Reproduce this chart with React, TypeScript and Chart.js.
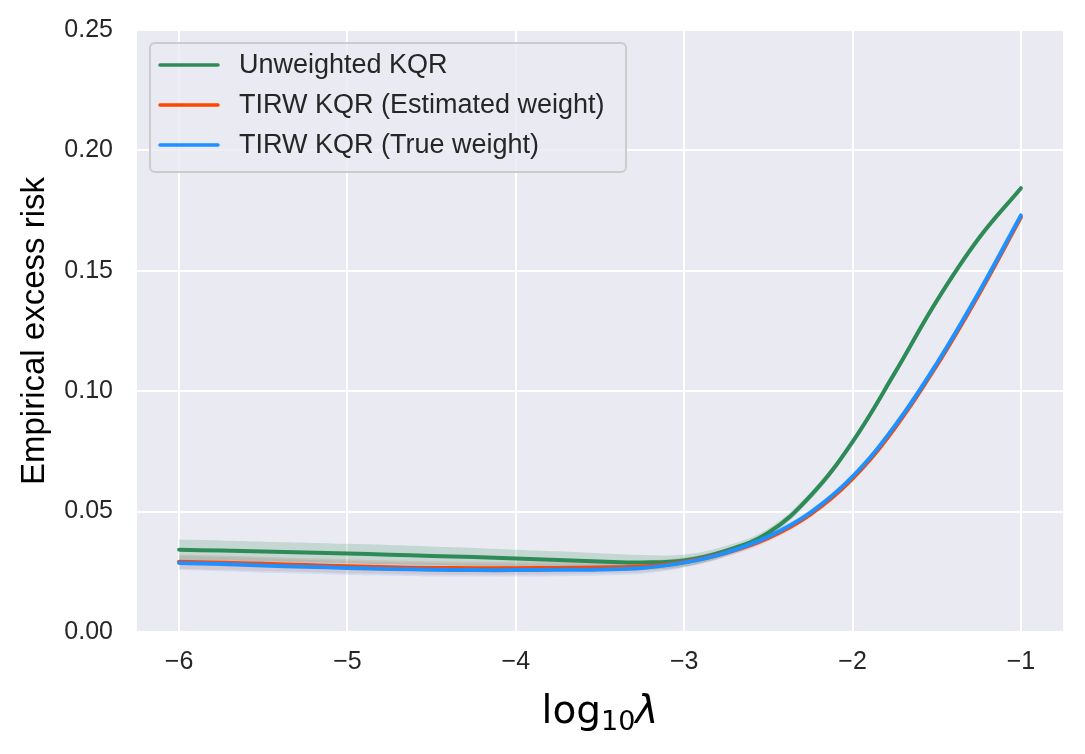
import { Chart, registerables } from "chart.js";
import type { ChartConfiguration, Plugin } from "chart.js";
import { useEffect, useRef } from "react";

Chart.register(...registerables);

// x positions (log10 lambda)
const logLambda = [
  -6, -5.75, -5.5, -5.25, -5, -4.75, -4.5, -4.25, -4, -3.75, -3.5, -3.25, -3,
  -2.75, -2.5, -2.25, -2, -1.75, -1.5, -1.25, -1,
];

// mean excess risk per method
const unweighted = [
  0.0342, 0.0338, 0.0334, 0.033, 0.0326, 0.0321, 0.0316, 0.0311, 0.0305,
  0.0299, 0.0293, 0.0289, 0.0297, 0.0338, 0.0412, 0.0565, 0.079, 0.1075,
  0.1375, 0.1635, 0.1843,
];
const estimatedWeight = [
  0.0292, 0.0288, 0.0283, 0.0278, 0.0273, 0.0269, 0.0266, 0.0265, 0.0265,
  0.0266, 0.0268, 0.0272, 0.029, 0.0329, 0.0391, 0.0489, 0.0637, 0.0846,
  0.1107, 0.1402, 0.1722,
];
const trueWeight = [
  0.0287, 0.0282, 0.0276, 0.0271, 0.0266, 0.0262, 0.0259, 0.0257, 0.0257,
  0.0258, 0.026, 0.0266, 0.0288, 0.033, 0.0396, 0.0496, 0.0645, 0.0855,
  0.1115, 0.141, 0.173,
];

// half width of the shaded bands
const unweightedSpread = [
  0.0042, 0.0042, 0.0041, 0.0041, 0.004, 0.004, 0.0039, 0.0038, 0.0037, 0.0036,
  0.0034, 0.0031, 0.0025, 0.002, 0.0018, 0.0016, 0.0015, 0.0014, 0.0013,
  0.0012, 0.001,
];
const estimatedSpread = [
  0.003, 0.003, 0.003, 0.0029, 0.0029, 0.0028, 0.0028, 0.0027, 0.0027, 0.0026,
  0.0025, 0.0024, 0.002, 0.0017, 0.0015, 0.0014, 0.0013, 0.0012, 0.0011, 0.001,
  0.0009,
];
const trueSpread = [
  0.003, 0.003, 0.003, 0.0029, 0.0029, 0.0028, 0.0028, 0.0027, 0.0027, 0.0026,
  0.0025, 0.0024, 0.002, 0.0017, 0.0015, 0.0014, 0.0013, 0.0012, 0.0011, 0.001,
  0.0009,
];

const xTicks = [-6, -5, -4, -3, -2, -1];
const yTicks = [0, 0.05, 0.1, 0.15, 0.2, 0.25];

const seriesLabels = [
  "Unweighted KQR",
  "TIRW KQR (Estimated weight)",
  "TIRW KQR (True weight)",
];
const seriesColors = ["#2e8b57", "#ff4500", "#1e90ff"];
const bandColors = [
  "rgba(46, 139, 87, 0.2)",
  "rgba(255, 69, 0, 0.14)",
  "rgba(30, 144, 255, 0.14)",
];

const TEXT = "#262626";
const FONT = "'Liberation Sans', Arial, sans-serif";
const MATH = "'DejaVu Sans', sans-serif";

const points = (ys: number[], off: number[] = [], sign = 0) =>
  logLambda.map((x, i) => ({ x, y: ys[i] + sign * (off[i] ?? 0) }));

const backgroundPlugin: Plugin = {
  id: "darkgrid",
  beforeDraw: (chart) => {
    const { ctx, chartArea: a } = chart;
    ctx.save();
    ctx.fillStyle = "#eaeaf2";
    ctx.fillRect(a.left, a.top, a.right - a.left, a.bottom - a.top);
    ctx.restore();
  },
};

// x axis label with a real subscript, like matplotlib mathtext
const xTitlePlugin: Plugin = {
  id: "xTitle",
  afterDraw: (chart) => {
    const { ctx, chartArea: a } = chart;
    ctx.save();
    ctx.fillStyle = "#000000";
    ctx.textBaseline = "alphabetic";
    const parts = [
      { t: "log", font: `39px ${MATH}`, dy: 0 },
      { t: "10", font: `27px ${MATH}`, dy: 7 },
      { t: "\u03bb", font: `italic 39px ${MATH}`, dy: 0 },
    ];
    let total = 0;
    parts.forEach((p) => {
      ctx.font = p.font;
      total += ctx.measureText(p.t).width;
    });
    let x = (a.left + a.right) / 2 - total / 2;
    const base = a.bottom + 91;
    parts.forEach((p) => {
      ctx.font = p.font;
      ctx.fillText(p.t, x, base + p.dy);
      x += ctx.measureText(p.t).width;
    });
    ctx.restore();
  },
};

const legendPlugin: Plugin = {
  id: "insideLegend",
  afterDraw: (chart) => {
    const { ctx, chartArea: a } = chart;
    const x = a.left + 13;
    const y = a.top + 13;
    const w = 476;
    const h = 129;
    ctx.save();
    ctx.beginPath();
    ctx.roundRect(x, y, w, h, 5);
    ctx.fillStyle = "rgba(234, 234, 242, 0.8)";
    ctx.fill();
    ctx.lineWidth = 2;
    ctx.strokeStyle = "#cccccc";
    ctx.stroke();
    ctx.font = `27px ${FONT}`;
    ctx.textBaseline = "middle";
    seriesLabels.forEach((label, i) => {
      const ly = y + 22 + i * 40;
      ctx.beginPath();
      ctx.moveTo(x + 10, ly);
      ctx.lineTo(x + 68, ly);
      ctx.lineWidth = 3.5;
      ctx.lineCap = "round";
      ctx.strokeStyle = seriesColors[i];
      ctx.stroke();
      ctx.fillStyle = TEXT;
      ctx.fillText(label, x + 89, ly + 1);
    });
    ctx.restore();
  },
};

const App = () => {
  const canvasRef = useRef<HTMLCanvasElement>(null);

  useEffect(() => {
    const ctx = canvasRef.current?.getContext("2d");
    if (!ctx) {
      return;
    }

    const means = [unweighted, estimatedWeight, trueWeight];
    const spreads = [unweightedSpread, estimatedSpread, trueSpread];

    const bands = means.flatMap((m, i) => [
      {
        label: `${seriesLabels[i]} upper`,
        data: points(m, spreads[i], 1),
        borderWidth: 0,
        pointRadius: 0,
        backgroundColor: bandColors[i],
        fill: "+1",
        tension: 0.4,
        order: 10,
      },
      {
        label: `${seriesLabels[i]} lower`,
        data: points(m, spreads[i], -1),
        borderWidth: 0,
        pointRadius: 0,
        fill: false,
        tension: 0.4,
        order: 10,
      },
    ]);

    const lines = means.map((m, i) => ({
      label: seriesLabels[i],
      data: points(m),
      borderColor: seriesColors[i],
      borderWidth: 4,
      pointRadius: 0,
      fill: false,
      tension: 0.4,
      borderCapStyle: "round" as const,
      order: 3 - i,
    }));

    const config: ChartConfiguration<"line"> = {
      type: "line",
      data: { datasets: [...bands, ...lines] as any },
      options: {
        responsive: true,
        maintainAspectRatio: false,
        animation: false,
        events: [],
        layout: { padding: { top: 30, right: 22, left: 0, bottom: 0 } },
        plugins: {
          legend: { display: false },
          tooltip: { enabled: false },
        },
        scales: {
          x: {
            type: "linear",
            min: -6.25,
            max: -0.75,
            afterFit: (s) => {
              s.height = 122;
              s.paddingLeft = 0;
              s.paddingRight = 0;
            },
            afterBuildTicks: (s) => {
              s.ticks = xTicks.map((value) => ({ value }));
            },
            grid: { color: "#ffffff", lineWidth: 2, drawTicks: false },
            border: { display: false },
            ticks: {
              padding: 15,
              color: TEXT,
              font: { family: FONT, size: 25 },
              callback: (v) =>
                Number(v) < 0 ? `\u2212${Math.abs(Number(v))}` : `${v}`,
            },
          },
          y: {
            min: 0,
            max: 0.25,
            afterFit: (s) => {
              s.width = 137;
              s.paddingTop = 0;
              s.paddingBottom = 0;
            },
            afterBuildTicks: (s) => {
              s.ticks = yTicks.map((value) => ({ value }));
            },
            grid: { color: "#ffffff", lineWidth: 2, drawTicks: false },
            border: { display: false },
            ticks: {
              padding: 24,
              color: TEXT,
              font: { family: FONT, size: 25 },
              callback: (v) => Number(v).toFixed(2),
            },
            title: {
              display: true,
              text: "Empirical excess risk",
              color: "#000000",
              font: { family: FONT, size: 33 },
              padding: { top: 15, bottom: 0 },
            },
          },
        },
      },
      plugins: [backgroundPlugin, legendPlugin, xTitlePlugin],
    };

    const chart = new Chart(ctx, config);

    return () => {
      chart.destroy();
    };
  }, []);

  return (
    <div
      style={{ position: "fixed", left: 0, top: 0, width: 1085, height: 754 }}
    >
      <canvas ref={canvasRef} />
    </div>
  );
};

export default App;
